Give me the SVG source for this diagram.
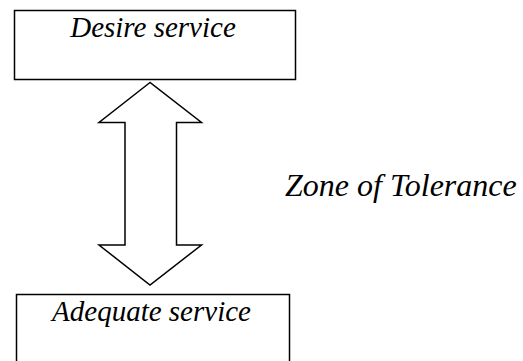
<svg xmlns="http://www.w3.org/2000/svg" width="523" height="361" viewBox="0 0 523 361">
<style>
.box{fill:#fff;stroke:#000;stroke-width:1.5}
.t{font-family:"Liberation Serif","Times New Roman",serif;font-style:italic;font-size:29px;fill:#000}
.big{font-size:32px}
.arrow{fill:#fff;stroke:#000;stroke-width:1.5;stroke-linejoin:miter}
</style>
<rect width="523" height="361" fill="#fff"/>
<g id="desire">
<rect class="box" x="14.5" y="10.5" width="281" height="69"/>
<text class="t" x="153" y="37" text-anchor="middle">Desire service</text>
</g>
<g id="adequate">
<rect class="box" x="16.5" y="294.5" width="273" height="80"/>
<text class="t" x="151.5" y="321" text-anchor="middle">Adequate service</text>
</g>
<g id="connectors">
<polygon class="arrow" points="150,82.5 99,122.5 125,122.5 125,245 99,245 150,285 201.5,245 176.5,245 176.5,122.5 201.5,122.5"/>
</g>
<g id="zone">
<text class="t big" x="285" y="196">Zone of Tolerance</text>
</g>
</svg>
